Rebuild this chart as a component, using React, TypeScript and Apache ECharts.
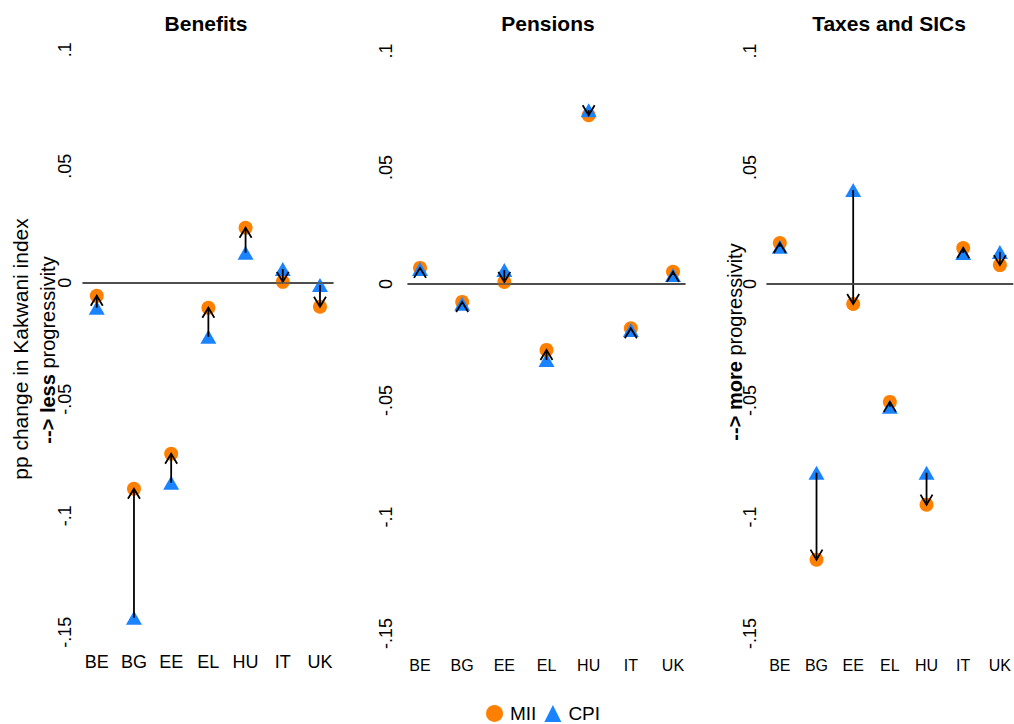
import { useEffect, useRef } from "react";
import * as echarts from "echarts";

const countries = ["BE", "BG", "EE", "EL", "HU", "IT", "UK"];
const panelTitles = ["Benefits", "Pensions", "Taxes and SICs"];
const yTicks = [-0.15, -0.1, -0.05, 0, 0.05, 0.1];

// MII / CPI indexation scenarios, pp change in Kakwani index
const benefitsMII = [-0.0056, -0.0884, -0.0734, -0.0107, 0.0236, 0.0004, -0.0103];
const benefitsCPI = [-0.0107, -0.1438, -0.0858, -0.0232, 0.0129, 0.0059, -0.001];
const pensionsMII = [0.0069, -0.0077, 0.0009, -0.0283, 0.0724, -0.019, 0.0052];
const pensionsCPI = [0.0064, -0.0085, 0.006, -0.0326, 0.0746, -0.0197, 0.0039];
const taxesMII = [0.0176, -0.1183, -0.0086, -0.0506, -0.0947, 0.0154, 0.0081];
const taxesCPI = [0.016, -0.081, 0.0403, -0.0527, -0.081, 0.0133, 0.0137];

const MII_COLOR = "#ff8000";
const CPI_COLOR = "#1a83ff";
const FONT = "Liberation Sans, Arial, Helvetica, sans-serif";

/** grid boxes and ranges per panel, tuned to the reference layout */
const PANELS = [
  { left: 83, width: 250, top: 40, height: 603, xMin: 0.63, xMax: 7.35, yMin: -0.1546, yMax: 0.1042, catSize: 18, yMargin: 9, titleX: 206 },
  { left: 408, width: 277, top: 40, height: 607.5, xMin: 0.715, xMax: 7.285, yMin: -0.156, yMax: 0.1047, catSize: 16, yMargin: 13, titleX: 548 },
  { left: 767, width: 250, top: 40, height: 607.5, xMin: 0.65, xMax: 7.35, yMin: -0.156, yMax: 0.1047, catSize: 16, yMargin: 8, titleX: 889 },
];

const panelData = [
  { mii: benefitsMII, cpi: benefitsCPI },
  { mii: pensionsMII, cpi: pensionsCPI },
  { mii: taxesMII, cpi: taxesCPI },
];

const fmtTick = (v: number) => (v === 0 ? "0" : String(v).replace("0.", "."));

export default function App() {
  const ref = useRef<HTMLDivElement>(null);

  useEffect(() => {
    document.body.style.margin = "0";
    if (!ref.current) return;
    const chart = echarts.init(ref.current, undefined, { renderer: "svg" });

    const series: any[] = [];
    panelData.forEach((p, k) => {
      series.push({
        name: "MII",
        type: "scatter",
        xAxisIndex: k,
        yAxisIndex: k,
        symbol: "circle",
        symbolSize: 14,
        itemStyle: { color: MII_COLOR, opacity: 1 },
        data: p.mii.map((v, i) => [i + 1, v]),
        z: 2,
        markLine: {
          silent: true,
          symbol: "none",
          label: { show: false },
          lineStyle: { color: "#555", type: "solid", width: 1.5 },
          data: [{ yAxis: 0 }],
        },
      });
      series.push({
        name: "CPI",
        type: "scatter",
        xAxisIndex: k,
        yAxisIndex: k,
        symbol: "triangle",
        symbolSize: [16, 14],
        itemStyle: { color: CPI_COLOR, opacity: 1 },
        data: p.cpi.map((v, i) => [i + 1, v]),
        z: 3,
      });
      // arrow from the CPI value to the MII value
      series.push({
        name: "arrows",
        type: "custom",
        xAxisIndex: k,
        yAxisIndex: k,
        z: 4,
        silent: true,
        encode: { x: 0, y: [1, 2] },
        data: p.cpi.map((v, i) => [i + 1, v, p.mii[i]]),
        renderItem: (_params: any, api: any) => {
          const x = api.value(0);
          const from = api.coord([x, api.value(1)]);
          const to = api.coord([x, api.value(2)]);
          const dir = to[1] > from[1] ? 1 : -1;
          const hx = 6;
          const hy = 10;
          const style = { stroke: "#000", fill: "none", lineWidth: 1.8 };
          return {
            type: "group",
            children: [
              { type: "line", shape: { x1: from[0], y1: from[1], x2: to[0], y2: to[1] }, style },
              {
                type: "polyline",
                shape: {
                  points: [
                    [to[0] - hx, to[1] - dir * hy],
                    [to[0], to[1]],
                    [to[0] + hx, to[1] - dir * hy],
                  ],
                },
                style,
              },
            ],
          };
        },
      });
    });

    chart.setOption({
      animation: false,
      backgroundColor: "#fff",
      textStyle: { fontFamily: FONT },
      title: PANELS.map((g, k) => ({
        text: panelTitles[k],
        left: g.titleX,
        top: 13,
        padding: 0,
        textAlign: "center",
        textStyle: { fontFamily: FONT, fontSize: 21, fontWeight: "bold", color: "#000" },
      })),
      legend: {
        left: 486,
        top: 704,
        itemWidth: 17,
        itemHeight: 17,
        itemGap: 8,
        padding: 0,
        textStyle: { fontFamily: FONT, fontSize: 19, lineHeight: 18, color: "#000", padding: [0, 0, 0, 2] },
        data: [
          { name: "MII", icon: "circle" },
          { name: "CPI", icon: "triangle" },
        ],
      },
      grid: PANELS.map((g) => ({ left: g.left, width: g.width, top: g.top, height: g.height })),
      xAxis: PANELS.map((g, k) => ({
        type: "value",
        gridIndex: k,
        min: g.xMin,
        max: g.xMax,
        axisLine: { show: true, lineStyle: { color: "#000", width: 1.5 } },
        axisTick: { show: false },
        splitLine: { show: false },
        axisLabel: {
          customValues: [1, 2, 3, 4, 5, 6, 7],
          formatter: (v: number) => countries[Math.round(v) - 1] ?? "",
          color: "#000",
          fontSize: g.catSize,
          fontFamily: FONT,
          margin: 10,
        },
      })),
      yAxis: PANELS.map((g, k) => ({
        type: "value",
        gridIndex: k,
        min: g.yMin,
        max: g.yMax,
        axisLine: { show: false },
        axisTick: { show: false },
        splitLine: { show: false },
        axisLabel: {
          customValues: yTicks,
          formatter: fmtTick,
          rotate: 90,
          color: "#000",
          fontSize: 18,
          fontFamily: FONT,
          margin: g.yMargin,
        },
      })),
      graphic: [
        {
          type: "text",
          x: 20,
          y: 349,
          rotation: Math.PI / 2,
          style: {
            text: "pp change in Kakwani index",
            fontFamily: FONT,
            fontSize: 21,
            fill: "#000",
            align: "center",
            verticalAlign: "middle",
          },
        },
        {
          type: "text",
          x: 48,
          y: 350,
          rotation: Math.PI / 2,
          style: {
            text: "{b|--> less} progressivity",
            fontFamily: FONT,
            fontSize: 20,
            fill: "#000",
            align: "center",
            verticalAlign: "middle",
            rich: { b: { fontFamily: FONT, fontSize: 20, fontWeight: "bold", fill: "#000" } },
          },
        },
        {
          type: "text",
          x: 735,
          y: 342,
          rotation: Math.PI / 2,
          style: {
            text: "{b|--> more} progressivity",
            fontFamily: FONT,
            fontSize: 20,
            fill: "#000",
            align: "center",
            verticalAlign: "middle",
            rich: { b: { fontFamily: FONT, fontSize: 20, fontWeight: "bold", fill: "#000" } },
          },
        },
      ],
      series,
    });

    return () => chart.dispose();
  }, []);

  return <div ref={ref} style={{ width: 1014, height: 724 }} />;
}
